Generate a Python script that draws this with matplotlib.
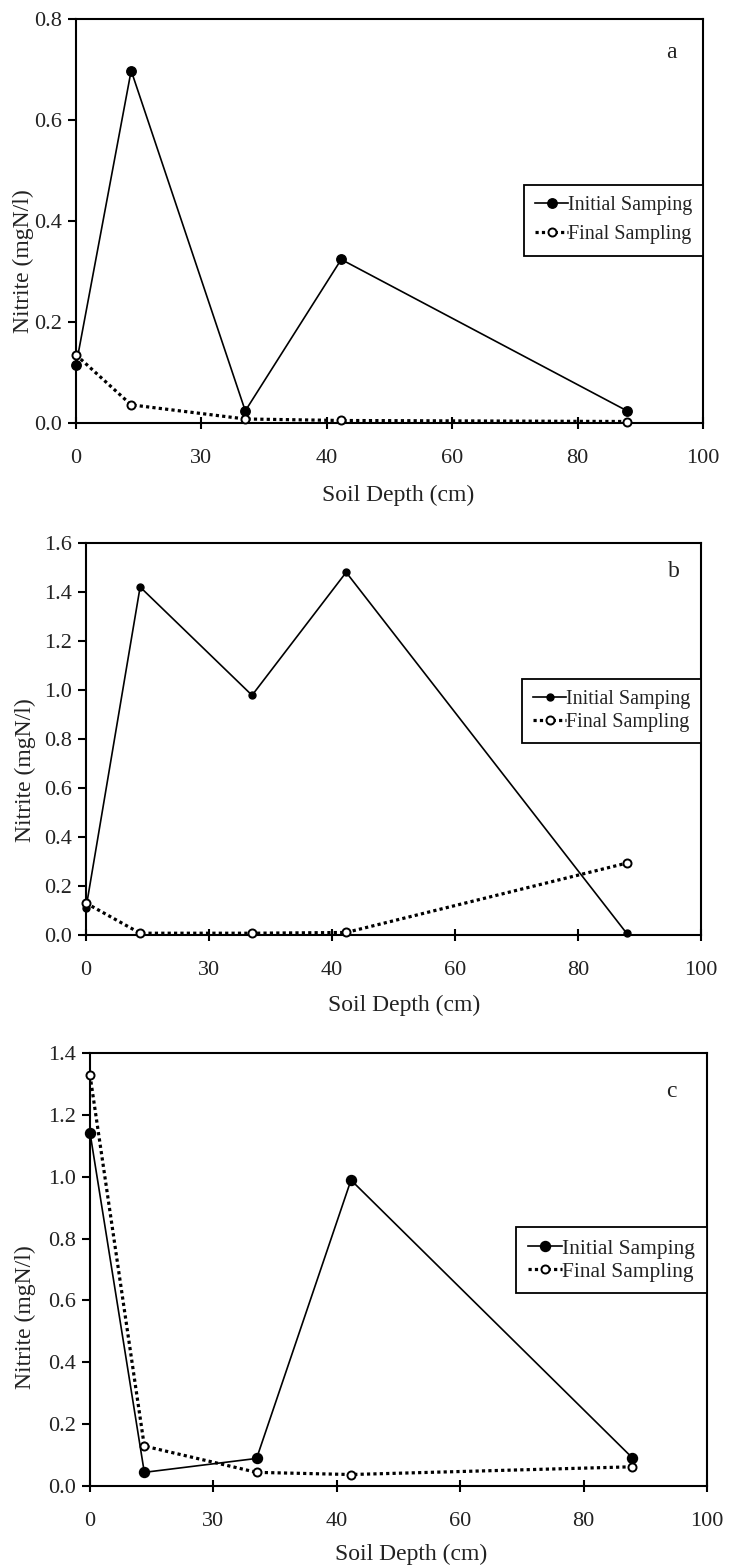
import matplotlib
matplotlib.use("Agg")
import matplotlib.pyplot as plt
from matplotlib.ticker import FixedLocator, FixedFormatter, FormatStrFormatter

plt.rcParams['font.family'] = ['Liberation Serif', 'DejaVu Serif']

# soil depth positions (axis runs 0-100, ticks every 20)
depth = [0, 8.8, 27, 42.3, 87.9]
xtick_pos = [0, 20, 40, 60, 80, 100]
xtick_labels = ['0', '30', '40', '60', '80', '100']

# panel a
a_initial = [0.114, 0.698, 0.024, 0.324, 0.024]
a_final = [0.135, 0.036, 0.008, 0.005, 0.003]
# panel b
b_initial = [0.109, 1.42, 0.978, 1.48, 0.007]
b_final = [0.13, 0.007, 0.007, 0.01, 0.293]
# panel c
c_initial = [1.142, 0.044, 0.089, 0.989, 0.091]
c_final = [1.328, 0.129, 0.044, 0.037, 0.062]

panels = [
    # (label, initial, final, ymax, axes rect, filled marker size, legend top,
    #  ylabel coords, xlabel coords, legend spacing, legend fontsize, panel letter pos)
    ('a', a_initial, a_final, 0.8, [0.1041, 0.7297, 0.8589, 0.2581], 6.8,
     0.589, (-0.084, 0.40), (0.514, -0.178), 0.5, 14.5, (0.949, 0.918)),
    ('b', b_initial, b_final, 1.6, [0.1178, 0.4026, 0.8425, 0.2505], 5.0,
     0.653, (-0.099, 0.42), (0.517, -0.179), 0.2, 14.5, (0.956, 0.926)),
    ('c', c_initial, c_final, 1.4, [0.1233, 0.0505, 0.8452, 0.2767], 7.2,
     0.598, (-0.104, 0.39), (0.520, -0.157), 0.12, 15.5, (0.942, 0.910)),
]

fig = plt.figure(figsize=(7.3, 15.65), dpi=100)
txt = '#222222'

for (lab, init, fin, ymax, rect, ms, leg_top, ylc, xlc, lsp, lfs, labpos) in panels:
    ax = fig.add_axes(rect)
    ax.plot(depth, init, color='black', lw=1.2, marker='o', ms=ms,
            mfc='black', mec='black', label='Initial Samping', clip_on=False, zorder=3)
    ax.plot(depth, fin, color='black', lw=2.3, ls=(0, (1, 1)), marker='o', ms=5.8,
            mfc='white', mec='black', mew=1.4, label='Final Sampling', clip_on=False, zorder=4)

    ax.set_xlim(0, 100)
    ax.set_ylim(0, ymax)
    ax.xaxis.set_major_locator(FixedLocator(xtick_pos))
    ax.xaxis.set_major_formatter(FixedFormatter(xtick_labels))
    yt = [round(0.2 * i, 1) for i in range(int(round(ymax / 0.2)) + 1)]
    ax.set_yticks(yt)
    ax.yaxis.set_major_formatter(FormatStrFormatter('%.1f'))

    for s in ax.spines.values():
        s.set_linewidth(1.5)
        s.set_color('black')
    ax.tick_params(axis='x', direction='inout', length=9, width=1.5, pad=14,
                   labelsize=16, labelcolor=txt)
    ax.tick_params(axis='y', direction='out', length=6, width=1.5, pad=4,
                   labelsize=16, labelcolor=txt)

    ax.set_xlabel('Soil Depth (cm)', fontsize=17, color=txt, va='center')
    ax.xaxis.set_label_coords(*xlc)
    ax.set_ylabel('Nitrite (mgN/l)', fontsize=17, color=txt, va='center')
    ax.yaxis.set_label_coords(*ylc)

    ax.text(labpos[0], labpos[1], lab, transform=ax.transAxes, fontsize=17,
            color=txt, ha='center', va='center')

    leg = ax.legend(loc='upper right', bbox_to_anchor=(1.0, leg_top), borderaxespad=0,
                    fontsize=lfs, handlelength=1.6, handletextpad=0.0,
                    numpoints=1, fancybox=False, framealpha=1, edgecolor='black',
                    borderpad=0.55, labelspacing=lsp)
    leg.get_frame().set_linewidth(1.3)
    for t in leg.get_texts():
        t.set_color(txt)

fig.savefig('out.png', dpi=100)
